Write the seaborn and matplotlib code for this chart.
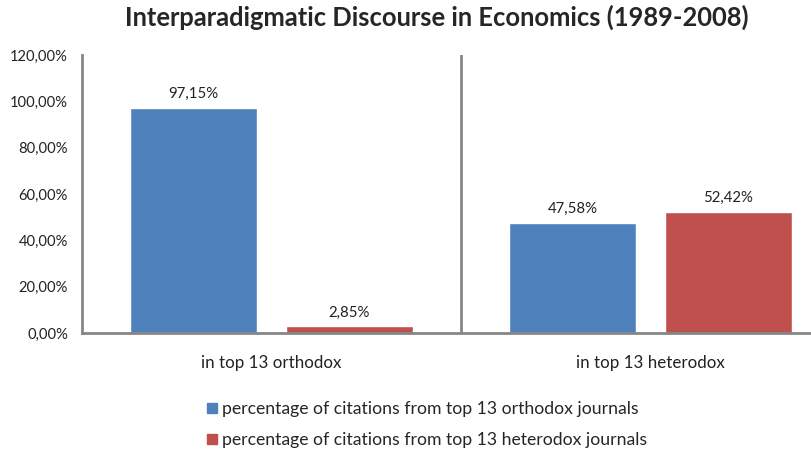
import pandas as pd
import seaborn as sns
import matplotlib.pyplot as plt
from matplotlib.lines import Line2D

# data
categories = ['in top 13 orthodox', 'in top 13 heterodox']
series = ['percentage of citations from top 13 orthodox journals',
          'percentage of citations from top 13 heterodox journals']
orthodox_share = [97.15, 47.58]
heterodox_share = [2.85, 52.42]
y_ticks = [0, 20, 40, 60, 80, 100, 120]

df = pd.DataFrame({
    'category': categories * 2,
    'series': [series[0]] * 2 + [series[1]] * 2,
    'value': orthodox_share + heterodox_share,
})

sns.set_style('white')
plt.rcParams['font.family'] = ['Lato', 'DejaVu Sans']

colors = ['#4F81BD', '#C0504D']
grey = '#868686'

fig = plt.figure(figsize=(8.12, 4.51), dpi=100)
ax = fig.add_axes([0.101, 0.2616, 0.899, 0.6164])

sns.barplot(data=df, x='category', y='value', hue='series', order=categories,
            hue_order=series, palette=colors, width=0.823, gap=0.19,
            saturation=1, ax=ax, legend=False)

for cont in ax.containers:
    ax.bar_label(cont, labels=[f'{v:.2f}%'.replace('.', ',') for v in cont.datavalues],
                 padding=5, fontsize=10.8, color='#222222')

ax.set_ylim(0, 120)
ax.set_xlim(-0.5, 1.426)
ax.set_yticks(y_ticks)
ax.set_yticklabels([f'{t:.2f}%'.replace('.', ',') for t in y_ticks], fontsize=10.6, color='#222222')
ax.tick_params(axis='x', labelsize=12.2, pad=16, length=0, colors='#222222')
ax.tick_params(axis='y', length=0, pad=10)
ax.set_xlabel('')
ax.set_ylabel('')

ax.axvline(0.5, color=grey, lw=2, ymin=0, ymax=1)
for side in ['top', 'right']:
    ax.spines[side].set_visible(False)
for side in ['left', 'bottom']:
    ax.spines[side].set_color(grey)
    ax.spines[side].set_linewidth(2)

fig.suptitle('Interparadigmatic Discourse in Economics (1989-2008)',
             fontsize=18.4, fontweight='bold', x=0.538, y=0.99)

handles = [Line2D([], [], marker='s', linestyle='', markersize=7,
                  markerfacecolor=c, markeredgecolor=c) for c in colors]
fig.legend(handles, series, loc='upper left',
           bbox_to_anchor=(0.25, 1 - 401 / 451), bbox_transform=fig.transFigure,
           frameon=False, fontsize=12.7, handletextpad=0.05, labelspacing=0.85,
           borderaxespad=0, borderpad=0, handlelength=1.0)

fig.savefig('out.png', dpi=100)
